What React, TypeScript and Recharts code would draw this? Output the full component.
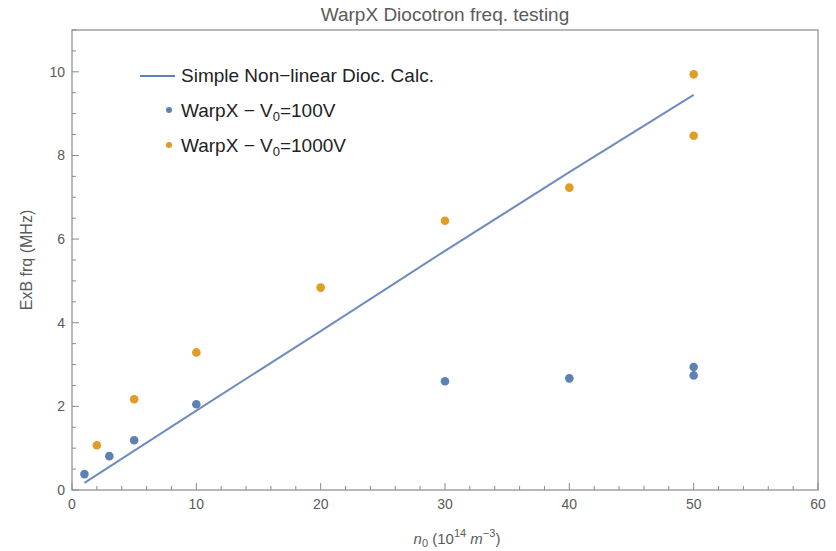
import { ComposedChart, Line, Scatter, XAxis, YAxis } from "recharts"

// Simple non-linear diocotron calculation (straight line)
const calcN = [1, 10, 20, 30, 40, 50]
const calcFreq = [0.17, 1.9, 3.8, 5.72, 7.6, 9.45]

// WarpX V0 = 100V
const lowN = [1, 3, 5, 10, 30, 40, 50, 50]
const lowFreq = [0.38, 0.81, 1.19, 2.05, 2.6, 2.67, 2.94, 2.74]

// WarpX V0 = 1000V
const highN = [2, 5, 10, 20, 30, 40, 50, 50]
const highFreq = [1.07, 2.17, 3.29, 4.84, 6.44, 7.23, 9.94, 8.47]

const xTicks = [0, 2, 4, 6, 8, 10, 12, 14, 16, 18, 20, 22, 24, 26, 28, 30, 32, 34, 36, 38, 40, 42, 44, 46, 48, 50, 52, 54, 56, 58, 60]
const yTicks = [0, 0.5, 1, 1.5, 2, 2.5, 3, 3.5, 4, 4.5, 5, 5.5, 6, 6.5, 7, 7.5, 8, 8.5, 9, 9.5, 10, 10.5, 11]

const calcData = calcN.map((n, i) => ({ x: n, y: calcFreq[i] }))
const lowData = lowN.map((n, i) => ({ x: n, y: lowFreq[i] }))
const highData = highN.map((n, i) => ({ x: n, y: highFreq[i] }))

const blue = "#5E81B5"
const orange = "#E19C24"
const frame = "#8a8a8a"
const labelColor = "#5a5a5a"
const font = "'Liberation Sans', Arial, sans-serif"

// plot box
const left = 72
const right = 818
const top = 30
const bottom = 490

const BottomTick = (props: any) => {
  const { x, payload } = props
  const major = payload.value % 10 === 0
  return (
    <g>
      <line x1={x} x2={x} y1={bottom} y2={bottom - (major ? 7 : 4)} stroke={frame} />
      {major && (
        <text x={x} y={bottom + 19} textAnchor="middle" fill={labelColor} fontSize={14} fontFamily={font}>
          {payload.value}
        </text>
      )}
    </g>
  )
}

const TopTick = (props: any) => {
  const { x, payload } = props
  const major = payload.value % 10 === 0
  return <line x1={x} x2={x} y1={top} y2={top + (major ? 7 : 4)} stroke={frame} />
}

const LeftTick = (props: any) => {
  const { y, payload } = props
  const major = payload.value % 2 === 0 && payload.value <= 10
  return (
    <g>
      <line x1={left} x2={left + (major ? 7 : 4)} y1={y} y2={y} stroke={frame} />
      {major && (
        <text x={left - 7} y={y + 5} textAnchor="end" fill={labelColor} fontSize={14} fontFamily={font}>
          {payload.value}
        </text>
      )}
    </g>
  )
}

const RightTick = (props: any) => {
  const { y, payload } = props
  const major = payload.value % 2 === 0 && payload.value <= 10
  return <line x1={right} x2={right - (major ? 7 : 4)} y1={y} y2={y} stroke={frame} />
}

export default function App() {
  return (
    <div style={{ position: "absolute", left: 0, top: 0, width: 836, height: 551, background: "#fff", fontFamily: font }}>
      <ComposedChart width={836} height={551} margin={{ top: top - 1, right: 836 - right - 1, bottom: 551 - bottom - 1, left: left - 1 }}>
        <XAxis
          xAxisId={0}
          dataKey="x"
          type="number"
          domain={[0, 60]}
          ticks={xTicks}
          interval={0}
          height={1}
          tickSize={0}
          tickMargin={0}
          axisLine={false}
          tick={<BottomTick />}
        />
        <XAxis
          xAxisId="top"
          orientation="top"
          dataKey="x"
          type="number"
          domain={[0, 60]}
          ticks={xTicks}
          interval={0}
          height={1}
          tickSize={0}
          tickMargin={0}
          axisLine={false}
          tick={<TopTick />}
        />
        <YAxis
          yAxisId={0}
          type="number"
          domain={[0, 11]}
          ticks={yTicks}
          interval={0}
          width={1}
          tickSize={0}
          tickMargin={0}
          axisLine={false}
          tick={<LeftTick />}
        />
        <YAxis
          yAxisId="right"
          orientation="right"
          type="number"
          domain={[0, 11]}
          ticks={yTicks}
          interval={0}
          width={1}
          tickSize={0}
          tickMargin={0}
          axisLine={false}
          tick={<RightTick />}
        />
        <Line
          data={calcData}
          dataKey="y"
          type="linear"
          stroke={blue}
          strokeOpacity={0.9}
          strokeWidth={2}
          dot={false}
          isAnimationActive={false}
        />
        <Scatter data={lowData} dataKey="y" fill={blue} shape={(p: any) => <circle cx={p.cx} cy={p.cy} r={4.3} fill={blue} />} isAnimationActive={false} />
        <Scatter data={highData} dataKey="y" fill={orange} shape={(p: any) => <circle cx={p.cx} cy={p.cy} r={4.3} fill={orange} />} isAnimationActive={false} />
      </ComposedChart>

      <svg style={{ position: "absolute", left: 0, top: 0 }} width={836} height={551} pointerEvents="none">
        <text x={445} y={21} textAnchor="middle" fontSize={19} fill={labelColor} fontFamily={font}>
          WarpX Diocotron freq. testing
        </text>
        {/* frame */}
        <rect x={left} y={top} width={right - left} height={bottom - top} fill="none" stroke={frame} strokeWidth={1.2} />
        {/* legend */}
        <line x1={140} x2={175} y1={76} y2={76} stroke={blue} strokeWidth={2} />
        <circle cx={169} cy={110} r={3} fill={blue} />
        <circle cx={169} cy={145} r={3} fill={orange} />
        <text x={181} y={82} fontSize={19} fill="#222" fontFamily={font}>Simple Non−linear Dioc. Calc.</text>
        <text x={181} y={117} fontSize={19} fill="#222" fontFamily={font}>
          WarpX − V<tspan fontSize={13} dy={4}>0</tspan><tspan dy={-4}>=100V</tspan>
        </text>
        <text x={181} y={152} fontSize={19} fill="#222" fontFamily={font}>
          WarpX − V<tspan fontSize={13} dy={4}>0</tspan><tspan dy={-4}>=1000V</tspan>
        </text>
        {/* axis labels */}
        <text x={0} y={0} transform="translate(32,260) rotate(-90)" textAnchor="middle" fontSize={16} fill={labelColor} fontFamily={font}>
          ExB frq (MHz)
        </text>
        <text x={457} y={544} textAnchor="middle" fontSize={15} fill={labelColor} fontFamily={font}>
          <tspan fontStyle="italic">n</tspan>
          <tspan fontSize={11} dy={3}>0</tspan>
          <tspan dy={-3}> (10</tspan>
          <tspan fontSize={11} dy={-7}>14</tspan>
          <tspan dy={7}> </tspan>
          <tspan fontStyle="italic">m</tspan>
          <tspan fontSize={11} dy={-7}>−3</tspan>
          <tspan dy={7}>)</tspan>
        </text>
      </svg>
    </div>
  )
}
